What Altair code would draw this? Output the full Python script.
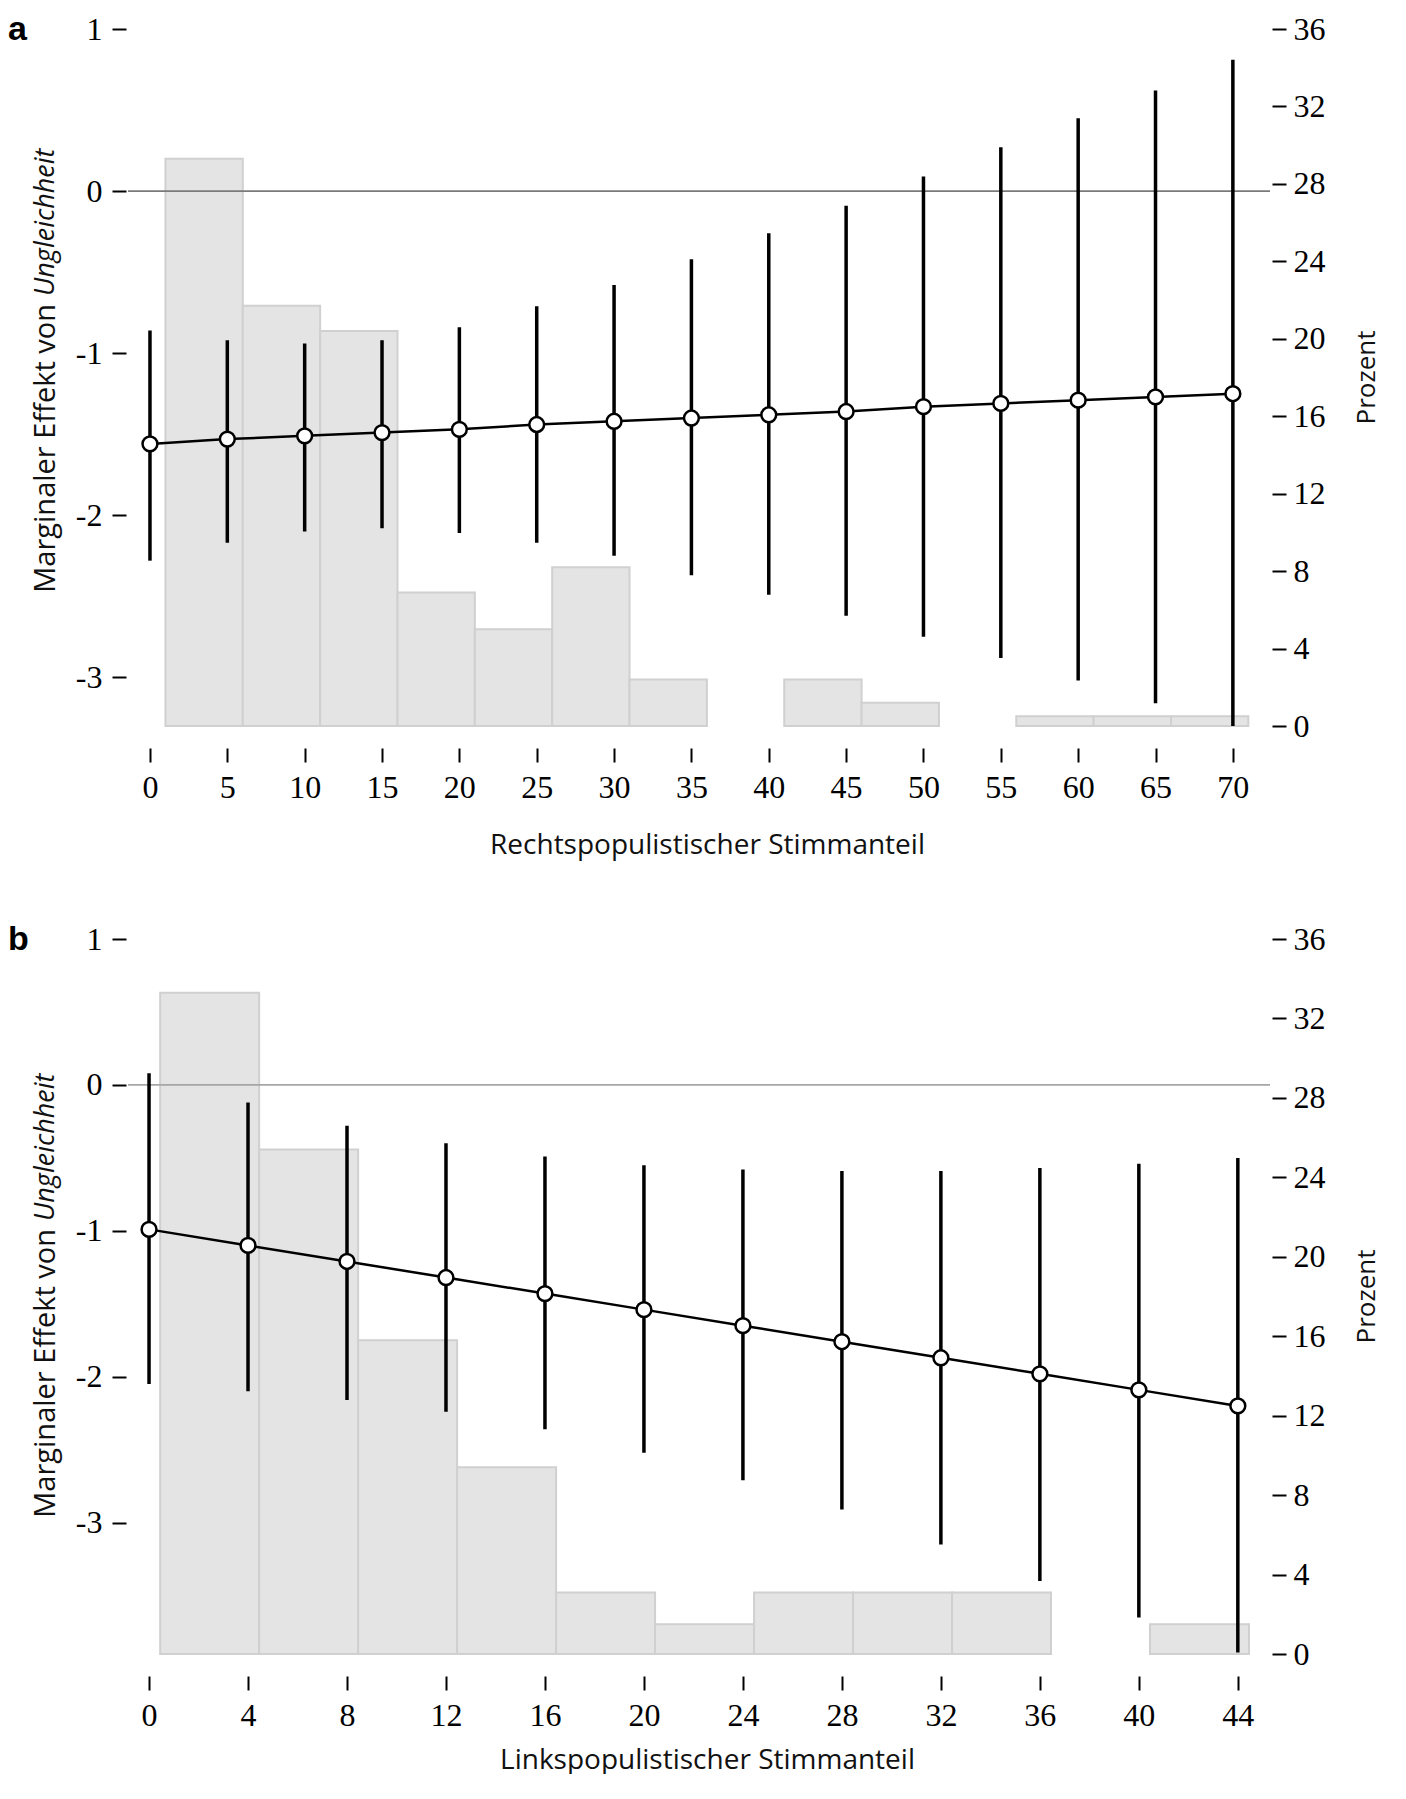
import altair as alt
import pandas as pd

# ---------------- Panel a: right-wing populist vote share ----------------
xa = [0, 5, 10, 15, 20, 25, 30, 35, 40, 45, 50, 55, 60, 65, 70]
est_a = [-1.56, -1.53, -1.51, -1.49, -1.47, -1.44, -1.42, -1.40, -1.38, -1.36, -1.33, -1.31, -1.29, -1.27, -1.25]
lo_a = [-2.28, -2.17, -2.10, -2.08, -2.11, -2.17, -2.25, -2.37, -2.49, -2.62, -2.75, -2.88, -3.02, -3.16, -3.30]
hi_a = [-0.86, -0.92, -0.94, -0.92, -0.84, -0.71, -0.58, -0.42, -0.26, -0.09, 0.09, 0.27, 0.45, 0.62, 0.81]
bin_a_start = [1, 6, 11, 16, 21, 26, 31, 41, 46, 56, 61, 66]
bin_a_width = 5
pct_a = [29.3, 21.7, 20.4, 6.9, 5.0, 8.2, 2.4, 2.4, 1.2, 0.5, 0.5, 0.5]
ticks_a = [0, 5, 10, 15, 20, 25, 30, 35, 40, 45, 50, 55, 60, 65, 70]

# ---------------- Panel b: left-wing populist vote share ----------------
xb = [0, 4, 8, 12, 16, 20, 24, 28, 32, 36, 40, 44]
est_b = [-0.99, -1.10, -1.21, -1.32, -1.43, -1.54, -1.65, -1.76, -1.87, -1.98, -2.09, -2.20]
lo_b = [-2.05, -2.10, -2.16, -2.24, -2.36, -2.52, -2.71, -2.91, -3.15, -3.40, -3.65, -3.89]
hi_b = [0.08, -0.12, -0.28, -0.40, -0.49, -0.55, -0.58, -0.59, -0.59, -0.57, -0.54, -0.50]
bin_b_start = [0.45, 4.45, 8.45, 12.45, 16.45, 20.45, 24.45, 28.45, 32.45, 40.45]
bin_b_width = 4
pct_b = [33.3, 25.4, 15.8, 9.4, 3.1, 1.5, 3.1, 3.1, 3.1, 1.5]
ticks_b = [0, 4, 8, 12, 16, 20, 24, 28, 32, 36, 40, 44]

left_ticks = [-3, -2, -1, 0, 1]
right_ticks = [0, 4, 8, 12, 16, 20, 24, 28, 32, 36]

W = 1142
SERIF = "Liberation Serif"
SANS = "Open Sans"
TITLE_COLOR = "#111111"


def panel(x, est, lo, hi, bstart, bw, pct, xdom, ydom, xticks, xtitle, letter, zero_color,
          letter_y, title_pad, H, split_y):
    pts = pd.DataFrame({"x": x, "est": est, "lo": lo, "hi": hi})
    bars = pd.DataFrame({"b0": bstart, "b1": [b + bw for b in bstart], "pct": pct, "z": [0] * len(pct)})
    xs = alt.Scale(domain=xdom, nice=False, zero=False)
    ys = alt.Scale(domain=ydom, nice=False, zero=False)

    xaxis = alt.Axis(values=xticks, title=xtitle, domain=False, grid=False, tickColor="black",
                     tickWidth=2, tickSize=14, offset=22, labelFont=SERIF, labelFontSize=32,
                     labelColor="black", labelPadding=10, titleFont=SANS, titleFontSize=28,
                     titleFontWeight="normal", titleColor=TITLE_COLOR, titlePadding=title_pad,
                     titleX=W / 2 + 8, titleAlign="center", labelFlush=False)
    raxis = alt.Axis(orient="right", values=right_ticks, title=None, domain=False, grid=False,
                     tickColor="black", tickWidth=2, tickSize=14, offset=2, labelFont=SERIF,
                     labelFontSize=32, labelColor="black", labelPadding=7, labelFlush=False)
    laxis = alt.Axis(orient="left", values=left_ticks, title=None, domain=False, grid=False,
                     tickColor="black", tickWidth=2, tickSize=14, offset=2, labelFont=SERIF,
                     labelFontSize=32, labelColor="black", labelPadding=10,
                     labelExpr="'' + datum.value", labelFlush=False)

    bar_layer = alt.Chart(bars).mark_rect(fill="#e4e4e4", stroke="#d0d0d0", strokeWidth=2).encode(
        x=alt.X("b0:Q", scale=xs, axis=xaxis),
        x2="b1",
        y=alt.Y("pct:Q", scale=alt.Scale(domain=[0, 36], nice=False), axis=raxis),
        y2="z",
    )

    zero = alt.Chart(pd.DataFrame({"z": [0]})).mark_rule(color=zero_color, strokeWidth=1.6).encode(
        y=alt.Y("z:Q", scale=ys, axis=laxis)
    )
    ci = alt.Chart(pts).mark_rule(color="black", strokeWidth=3.5).encode(
        x=alt.X("x:Q", scale=xs, axis=xaxis),
        y=alt.Y("lo:Q", scale=ys, axis=laxis),
        y2="hi",
    )
    line = alt.Chart(pts).mark_line(color="black", strokeWidth=2.5).encode(
        x=alt.X("x:Q", scale=xs, axis=xaxis),
        y=alt.Y("est:Q", scale=ys, axis=laxis),
    )
    points = alt.Chart(pts).mark_point(shape="circle", filled=True, fill="white", stroke="black",
                                       strokeWidth=2.5, size=220, opacity=1).encode(
        x=alt.X("x:Q", scale=xs, axis=xaxis),
        y=alt.Y("est:Q", scale=ys, axis=laxis),
    )

    t1 = alt.Chart(pd.DataFrame({"t": ["Marginaler Effekt von"]})).mark_text(
        font=SANS, fontSize=29, angle=270, align="right", baseline="middle", color=TITLE_COLOR
    ).encode(text="t:N", x=alt.value(-82), y=alt.value(split_y + 4))
    t2 = alt.Chart(pd.DataFrame({"t": ["Ungleichheit"]})).mark_text(
        font=SANS, fontSize=27, angle=270, align="left", baseline="middle", color=TITLE_COLOR,
        fontStyle="italic"
    ).encode(text="t:N", x=alt.value(-82), y=alt.value(split_y - 4))
    t3 = alt.Chart(pd.DataFrame({"t": ["Prozent"]})).mark_text(
        font=SANS, fontSize=26, angle=270, align="center", baseline="middle", color=TITLE_COLOR
    ).encode(text="t:N", x=alt.value(W + 97), y=alt.value(H / 2))
    lab = alt.Chart(pd.DataFrame({"t": [letter]})).mark_text(
        font="Liberation Sans", fontSize=34, fontWeight="bold", align="left",
        baseline="alphabetic", color="black"
    ).encode(text="t:N", x=alt.value(-120), y=alt.value(letter_y))

    inner = alt.layer(zero, ci, line, points, t1, t2, t3, lab)
    return alt.layer(bar_layer, inner).resolve_scale(y="independent").properties(width=W, height=H)


pa = panel(xa, est_a, lo_a, hi_a, bin_a_start, bin_a_width, pct_a, [-1.42, 72.4], [-3.3, 1],
           ticks_a, "Rechtspopulistischer Stimmanteil", "a", "#7a7a7a", 11, 28, 697, 271)
pb = panel(xb, est_b, lo_b, hi_b, bin_b_start, bin_b_width, pct_b, [-0.85, 45.3], [-3.9, 1],
           ticks_b, "Linkspopulistischer Stimmanteil", "b", "#a6a6a6", 11, 15, 715, 286)

chart = alt.vconcat(pa, pb, spacing=64).properties(
    padding={"left": 0, "top": 5, "right": 12, "bottom": 0}
).configure_view(stroke=None)

chart.save("out.html", embed_options={"renderer": "svg", "actions": False})
